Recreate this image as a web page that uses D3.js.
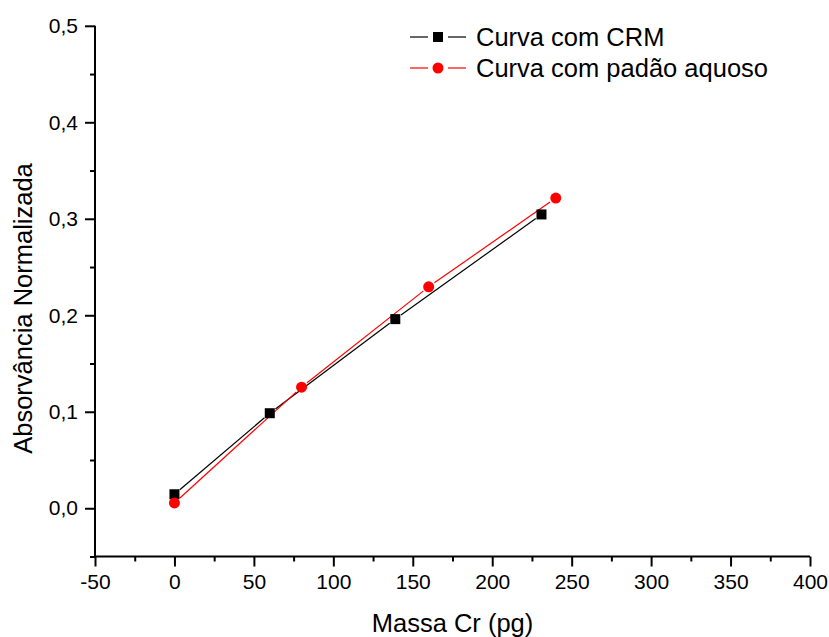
<!DOCTYPE html>
<html><head><meta charset="utf-8">
<script src="https://cdn.jsdelivr.net/npm/d3@7"></script>
<style>body{margin:0;background:#fff}svg{display:block}text{font-family:"Liberation Sans",Arial,sans-serif}</style>
</head><body><svg id="c" width="829" height="637"></svg>
<script>
const crmX = [0, 60, 139, 231];
const crmY = [0.0145, 0.0985, 0.196, 0.3045];
const aqX = [0, 80, 160, 240];
const aqY = [0.0055, 0.1255, 0.2295, 0.3215];
const xTicks = [-50, 0, 50, 100, 150, 200, 250, 300, 350, 400];
const yTicks = [0.0, 0.1, 0.2, 0.3, 0.4, 0.5];
const xMinor = [-25, 25, 75, 125, 175, 225, 275, 325, 375];
const yMinor = [-0.05, 0.05, 0.15, 0.25, 0.35, 0.45];
const seriesNames = ["Curva com CRM", "Curva com padão aquoso"];
const xTitle = "Massa Cr (pg)";
const yTitle = "Absorvância Normalizada";

const FONT = '"Liberation Sans",Arial,sans-serif';
const svg = d3.select("#c");
const x = d3.scaleLinear().domain([-50, 400]).range([95, 810]);
const y = d3.scaleLinear().domain([-0.05, 0.5]).range([556.5, 25.8]);
const fmt = d => d3.format(".1f")(d).replace(".", ",");

const gx = svg.append("g").attr("transform", "translate(0,556.5)")
  .call(d3.axisBottom(x).tickValues(xTicks).tickSize(10).tickPadding(8).tickFormat(d => String(d)));
svg.append("g").attr("transform", "translate(0,556.5)")
  .call(d3.axisBottom(x).tickValues(xMinor).tickSize(5).tickFormat(""))
  .select(".domain").remove();

const gy = svg.append("g").attr("transform", "translate(95,0)")
  .call(d3.axisLeft(y).tickValues(yTicks).tickSize(10).tickPadding(7).tickFormat(fmt));
svg.append("g").attr("transform", "translate(95,0)")
  .call(d3.axisLeft(y).tickValues(yMinor).tickSize(5).tickFormat(""))
  .select(".domain").remove();

svg.selectAll(".domain").attr("stroke", "#000").attr("stroke-width", 2);
svg.selectAll(".tick line").attr("stroke", "#000").attr("stroke-width", 2);
svg.selectAll(".tick text").attr("fill", "#000").style("font-size", "21px").style("font-family", FONT);
gx.select(".domain").attr("d", `M${x(-50)},0H${x(400)}`);
gy.select(".domain").attr("d", `M0,${y(-0.05)}V${y(0.5)}`);

// titles
svg.append("text").attr("x", x(175)).attr("y", 632).attr("text-anchor", "middle")
  .style("font-size", "25.5px").text(xTitle);
svg.append("text").attr("transform", `translate(32,308.5) rotate(-90)`).attr("text-anchor", "middle")
  .style("font-size", "25.5px").text(yTitle);

function gappedLine(xs, ys, color, gap) {
  for (let i = 0; i < xs.length - 1; i++) {
    const x1 = x(xs[i]), y1 = y(ys[i]), x2 = x(xs[i+1]), y2 = y(ys[i+1]);
    const dx = x2 - x1, dy = y2 - y1, L = Math.hypot(dx, dy);
    const ux = dx / L, uy = dy / L;
    svg.append("line").attr("x1", x1 + ux*gap).attr("y1", y1 + uy*gap)
      .attr("x2", x2 - ux*gap).attr("y2", y2 - uy*gap)
      .attr("stroke", color).attr("stroke-width", 1.2);
  }
}
gappedLine(crmX, crmY, "#000", 7);
gappedLine(aqX, aqY, "#ff0000", 7);

const crm = crmX.map((v, i) => ({x: v, y: crmY[i]}));
const aq = aqX.map((v, i) => ({x: v, y: aqY[i]}));
svg.selectAll("rect.crm").data(crm).enter().append("rect").attr("class", "crm")
  .attr("x", d => x(d.x) - 5).attr("y", d => y(d.y) - 5).attr("width", 10).attr("height", 10).attr("fill", "#000");
svg.selectAll("circle.aq").data(aq).enter().append("circle").attr("class", "aq")
  .attr("cx", d => x(d.x)).attr("cy", d => y(d.y)).attr("r", 5.5).attr("fill", "#ff0000");

// legend
const lg = svg.append("g");
const rows = [{c: "#000", m: "sq", yy: 37}, {c: "#ff0000", m: "ci", yy: 68}];
rows.forEach((r, i) => {
  lg.append("line").attr("x1", 410).attr("x2", 428).attr("y1", r.yy).attr("y2", r.yy).attr("stroke", r.c).attr("stroke-width", 1.2);
  lg.append("line").attr("x1", 448).attr("x2", 466).attr("y1", r.yy).attr("y2", r.yy).attr("stroke", r.c).attr("stroke-width", 1.2);
  if (r.m === "sq") lg.append("rect").attr("x", 433).attr("y", r.yy - 5).attr("width", 10).attr("height", 10).attr("fill", r.c);
  else lg.append("circle").attr("cx", 438).attr("cy", r.yy).attr("r", 5.5).attr("fill", r.c);
  lg.append("text").attr("x", 476).attr("y", r.yy + 9).style("font-size", "25.5px").text(seriesNames[i]);
});
</script></body></html>
